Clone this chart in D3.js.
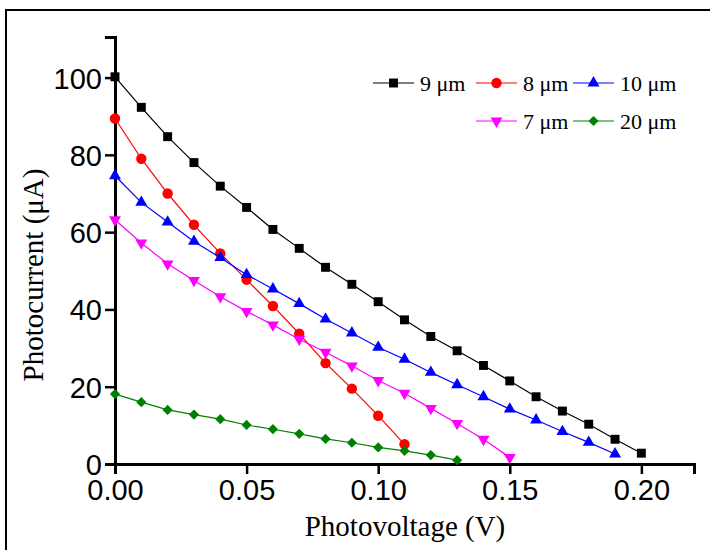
<!DOCTYPE html>
<html><head><meta charset="utf-8">
<script src="https://cdn.jsdelivr.net/npm/d3@7"></script>
<style>body{margin:0;background:#fff}svg{display:block}</style>
</head><body>
<svg id="c" width="710" height="550"></svg>
<script>
const voltage = [0,0.01,0.02,0.03,0.04,0.05,0.06,0.07,0.08,0.09,0.10,0.11,0.12,0.13,0.14,0.15,0.16,0.17,0.18,0.19,0.20];
const seriesNames = ["9 μm","8 μm","10 μm","7 μm","20 μm"];
const cur9  = [100.2,92.3,84.7,78.0,71.9,66.4,60.7,55.8,50.9,46.5,42.0,37.3,33.0,29.3,25.5,21.5,17.4,13.7,10.3,6.4,2.8];
const cur8  = [89.4,79.0,70.0,61.9,54.5,47.7,40.9,33.7,26.1,19.5,12.5,5.1];
const cur10 = [74.6,67.7,62.6,57.6,53.4,49.0,45.3,41.5,37.5,33.9,30.2,27.1,23.7,20.5,17.4,14.2,11.4,8.4,5.6,2.6];
const cur7  = [63.2,57.2,51.8,47.5,43.3,39.5,36.0,32.3,28.9,25.4,21.6,18.3,14.4,10.5,6.4,1.7];
const cur20 = [18.1,16.0,14.0,12.8,11.6,10.1,9.0,7.8,6.5,5.5,4.3,3.4,2.3,1.0];
const xTicks = [0,0.05,0.10,0.15,0.20];
const yTicks = [0,20,40,60,80,100];
const colors = ["#000000","#ff0000","#0000ff","#ff00ff","#008000"];

const svg = d3.select("#c");
svg.append("rect").attr("x",6).attr("y",10).attr("width",720).attr("height",560)
  .attr("fill","none").attr("stroke","#000").attr("stroke-width",2);

const x = d3.scaleLinear().domain([0,0.22]).range([115,694]);
const y = d3.scaleLinear().domain([0,110.5]).range([464,37]);

const xAxis = svg.append("g").attr("transform","translate(0,464)")
  .call(d3.axisBottom(x).tickValues(xTicks).tickFormat(d3.format(".2f")).tickSizeOuter(0).tickSize(10).tickPadding(5));
const yAxis = svg.append("g").attr("transform","translate(115,0)")
  .call(d3.axisLeft(y).tickValues(yTicks).tickFormat(d3.format("d")).tickSizeOuter(0).tickSize(10).tickPadding(3));
[xAxis,yAxis].forEach(a=>{
  a.select(".domain").attr("stroke","#000").attr("stroke-width",3);
  a.selectAll(".tick line").attr("stroke","#000").attr("stroke-width",2.5);
  a.selectAll(".tick text").attr("font-family","'Liberation Sans', Arial, sans-serif")
    .attr("font-size",29).attr("fill","#000");
});
yAxis.selectAll(".tick text").attr("dy","0.36em");

svg.append("text").attr("x",405).attr("y",536).attr("text-anchor","middle")
  .attr("font-family","'Liberation Serif', 'Times New Roman', serif").attr("font-size",29)
  .text("Photovoltage (V)");
svg.append("text").attr("transform","translate(43,275) rotate(-90)").attr("text-anchor","middle")
  .attr("font-family","'Liberation Serif', 'Times New Roman', serif").attr("font-size",29)
  .text("Photocurrent (μA)");

const sq = d3.symbol().type(d3.symbolSquare).size(80)();
const circ = d3.symbol().type(d3.symbolCircle).size(85)();
const tri = d3.symbol().type(d3.symbolTriangle).size(62)();
const dia = d3.symbol().type(d3.symbolSquare).size(52)();
const markers = [
  {p:sq, r:0},{p:circ, r:0},{p:tri, r:0},{p:tri, r:180},{p:dia, r:45}
];
const allData = [cur9,cur8,cur10,cur7,cur20];

const line = d3.line().x(d=>x(d[0])).y(d=>y(d[1]));
allData.forEach((vals,i)=>{
  const pts = vals.map((v,j)=>[voltage[j],v]);
  const g = svg.append("g");
  g.append("path").attr("d",line(pts)).attr("fill","none").attr("stroke",colors[i]).attr("stroke-width",1.2);
  g.selectAll("path.m").data(pts).enter().append("path").attr("class","m")
    .attr("d",markers[i].p).attr("fill",colors[i])
    .attr("transform",d=>`translate(${x(d[0])},${y(d[1])}) rotate(${markers[i].r})`);
});

// legend
const legPos = [[373,83],[476,83],[573,83],[476,121],[573,121]];
seriesNames.forEach((n,i)=>{
  const [lx,ly] = legPos[i];
  const g = svg.append("g").attr("transform",`translate(${lx},${ly})`);
  g.append("line").attr("x1",0).attr("x2",41).attr("y1",0).attr("y2",0).attr("stroke",colors[i]).attr("stroke-width",1.2);
  g.append("path").attr("d",markers[i].p).attr("fill",colors[i]).attr("transform",`translate(20.5,0) rotate(${markers[i].r})`);
  g.append("text").attr("x",47).attr("y",7.5).attr("font-family","'Liberation Serif', 'Times New Roman', serif")
    .attr("font-size",22).text(n);
});
</script>
</body></html>
